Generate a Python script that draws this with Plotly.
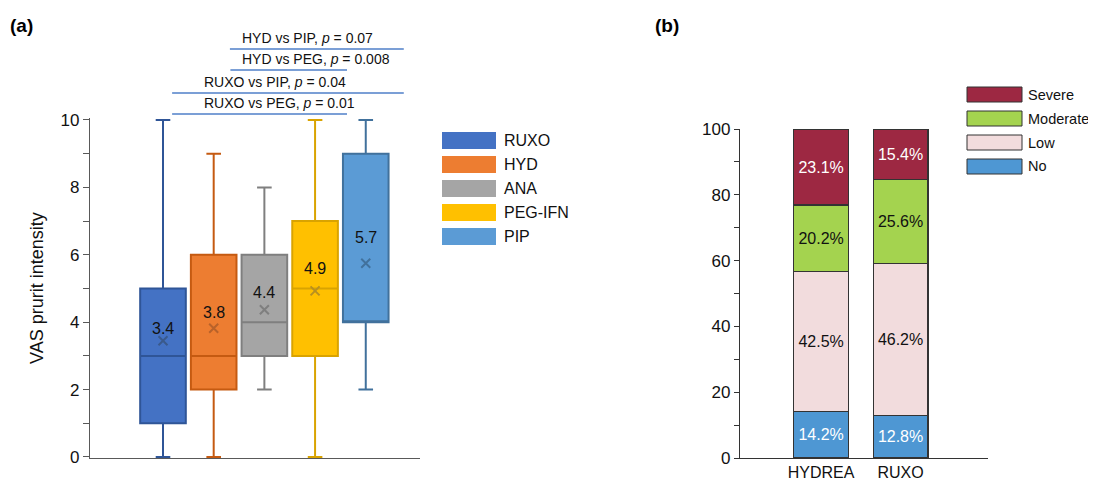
import plotly.graph_objects as go

# ---------------- data: panel (a) ----------------
groups = ["RUXO", "HYD", "ANA", "PEG-IFN", "PIP"]
lower_fence = [0, 0, 2, 0, 2]
q1 = [1, 2, 3, 3, 4]
median = [3, 3, 4, 5, 4]
q3 = [5, 6, 6, 7, 9]
upper_fence = [10, 9, 8, 10, 10]
means = [3.4, 3.8, 4.4, 4.9, 5.7]
mean_markers = [3.45, 3.82, 4.37, 4.93, 5.75]

comparisons = [
    ("HYD vs PIP, ", "0.07", 1, 4),
    ("HYD vs PEG, ", "0.008", 1, 3),
    ("RUXO vs PIP, ", "0.04", 0, 4),
    ("RUXO vs PEG, ", "0.01", 0, 3),
]

# ---------------- data: panel (b) ----------------
drugs = ["HYDREA", "RUXO"]
cat_no = [14.2, 12.8]
cat_low = [42.5, 46.2]
cat_moderate = [20.2, 25.6]
cat_severe = [23.1, 15.4]

# ---------------- styling ----------------
OFF = 8  # page body margin compensation
W, H = 1096 - OFF, 485 - OFF
FONT = "Liberation Sans, Arial, Helvetica, sans-serif"
fills = ["#4472C4", "#ED7D31", "#A5A5A5", "#FFC000", "#5B9BD5"]
edges = ["#2F5597", "#C55A11", "#7F7F7F", "#D9A300", "#41719C"]
mean_cols = ["#3A5A8C", "#B8622A", "#7F7F7F", "#B89020", "#41719C"]
label_shift = [12, 16, 17, 22, 26]


def px_x(p):
    return (p - OFF) / W


def px_y(p):
    return (H - (p - OFF)) / H


fig = go.Figure()

# panel (a) boxes
for i, g in enumerate(groups):
    fig.add_trace(go.Box(
        x=[i], q1=[q1[i]], median=[median[i]], q3=[q3[i]],
        lowerfence=[lower_fence[i]], upperfence=[upper_fence[i]],
        name=g, fillcolor=fills[i],
        line=dict(color=edges[i], width=2), whiskerwidth=0.32,
        width=0.9, boxpoints=False, showlegend=False,
        xaxis="x", yaxis="y", hoverinfo="skip",
    ))
    fig.add_trace(go.Scatter(
        x=[i], y=[mean_markers[i]], mode="markers",
        marker=dict(symbol="x-thin", size=9,
                    line=dict(color=mean_cols[i], width=2)),
        showlegend=False, xaxis="x", yaxis="y", hoverinfo="skip",
    ))
    fig.add_annotation(x=i, y=mean_markers[i], xref="x", yref="y",
                       text=f"{means[i]:.1f}", showarrow=False,
                       yshift=label_shift[i],
                       xanchor="center", yanchor="middle",
                       font=dict(size=16, color="#111", family=FONT))

# significance lines (above plot area)
line_y_px = [49, 70, 93, 114]
line_x_ends = [(1.32, 4.75), (1.33, 3.63), (0.18, 4.75), (0.18, 3.63)]
text_left_px = [240, 240, 202, 202]
for k, (lab, p, a, b) in enumerate(comparisons):
    x0, x1 = line_x_ends[k]
    fig.add_shape(type="line", xref="x", yref="paper", x0=x0, x1=x1,
                  y0=px_y(line_y_px[k]), y1=px_y(line_y_px[k]),
                  line=dict(color="#4F7FC8", width=1.3))
    fig.add_annotation(xref="paper", yref="paper", x=px_x(text_left_px[k]),
                       y=px_y(line_y_px[k] - 11),
                       xanchor="left", yanchor="middle",
                       text=f"{lab}<i>p</i> = {p}", showarrow=False,
                       font=dict(size=14, color="#111", family=FONT))

# panel (a) legend
leg_y = [132, 156, 180, 204, 228]
for i, g in enumerate(groups):
    fig.add_shape(type="rect", xref="paper", yref="paper",
                  x0=px_x(442), x1=px_x(496),
                  y0=px_y(leg_y[i] + 17), y1=px_y(leg_y[i]),
                  fillcolor=fills[i], line=dict(width=0))
    fig.add_annotation(xref="paper", yref="paper", x=px_x(502),
                       y=px_y(leg_y[i] + 8.5), xanchor="left", yanchor="middle",
                       text=g, showarrow=False,
                       font=dict(size=16, color="#111", family=FONT))

# panel (b) stacked bars
b_series = [
    ("No", cat_no, "#4E97D3", "white"),
    ("Low", cat_low, "#F2DCDD", "#111"),
    ("Moderate", cat_moderate, "#A4D34F", "#111"),
    ("Severe", cat_severe, "#9D2842", "white"),
]
for name, vals, col, tcol in b_series:
    fig.add_trace(go.Bar(
        x=[0, 1], y=vals, name=name, marker=dict(color=col,
                                                 line=dict(color="#333", width=1.2)),
        width=0.69, texttemplate="%{y:.1f}%", textposition="inside",
        insidetextanchor="middle", textangle=0,
        textfont=dict(size=16, color=tcol, family=FONT),
        showlegend=False, xaxis="x2", yaxis="y2", hoverinfo="skip",
    ))

# panel (b) legend (top to bottom)
leg2_y = [87, 111, 135, 159]
for k, (name, vals, col, tcol) in enumerate(reversed(b_series)):
    fig.add_shape(type="rect", xref="paper", yref="paper",
                  x0=px_x(967), x1=px_x(1022),
                  y0=px_y(leg2_y[k] + 15), y1=px_y(leg2_y[k]),
                  fillcolor=col, line=dict(color="#333", width=1))
    fig.add_annotation(xref="paper", yref="paper", x=px_x(1026),
                       y=px_y(leg2_y[k] + 7.5), xanchor="left", yanchor="middle",
                       text=name, showarrow=False,
                       font=dict(size=14.5, color="#111", family=FONT))

# panel labels
fig.add_annotation(xref="paper", yref="paper", x=px_x(8), y=px_y(26),
                   xanchor="left", yanchor="middle", text="<b>(a)</b>",
                   showarrow=False, font=dict(size=19, color="#000", family=FONT))
fig.add_annotation(xref="paper", yref="paper", x=px_x(653), y=px_y(26),
                   xanchor="left", yanchor="middle", text="<b>(b)</b>",
                   showarrow=False, font=dict(size=19, color="#000", family=FONT))

# axes
y_lo, y_hi = -0.04, 10.06
ppu = 33.7
fig.update_layout(
    width=W, height=H, autosize=False,
    margin=dict(l=0, r=0, t=0, b=0, pad=0, autoexpand=False),
    paper_bgcolor="white", plot_bgcolor="white",
    font=dict(family=FONT, color="#111"),
    barmode="stack", showlegend=False,
    xaxis=dict(domain=[px_x(90), px_x(420)], range=[-1.44, 5.07],
               showline=True, linecolor="#595959", linewidth=1.3,
               showticklabels=False, ticks="", showgrid=False, zeroline=False,
               automargin=False, fixedrange=True),
    yaxis=dict(domain=[px_y(457 - y_lo * ppu), px_y(457 - y_hi * ppu)],
               range=[y_lo, y_hi], anchor="x", automargin=False,
               tickvals=list(range(0, 11)),
               ticktext=[str(v) if v % 2 == 0 else "" for v in range(0, 11)],
               ticks="outside", ticklen=6,
               tickcolor="#595959", showline=True, linecolor="#595959",
               linewidth=1.3, showgrid=False, zeroline=False,
               tickfont=dict(size=17, color="#111"),
               title=dict(text="VAS prurit intensity", standoff=12,
                          font=dict(size=18, color="#111"))),
    xaxis2=dict(domain=[px_x(740), px_x(988)], range=[-1.02, 2.1],
                anchor="y2", tickvals=[0, 1], ticktext=drugs, ticks="",
                showline=True, linecolor="#333", linewidth=1.3,
                showgrid=False, zeroline=False, automargin=False,
                tickfont=dict(size=16, color="#111")),
    yaxis2=dict(domain=[px_y(458), px_y(129)], range=[0, 100], anchor="x2",
                tickvals=list(range(0, 101, 10)), automargin=False,
                ticktext=[str(v) if v % 20 == 0 else "" for v in range(0, 101, 10)],
                ticks="outside", ticklen=5, tickcolor="#333",
                showline=True, linecolor="#333", linewidth=1.3,
                showgrid=False, zeroline=False,
                tickfont=dict(size=17, color="#111")),
)

fig.write_html("out.html")
